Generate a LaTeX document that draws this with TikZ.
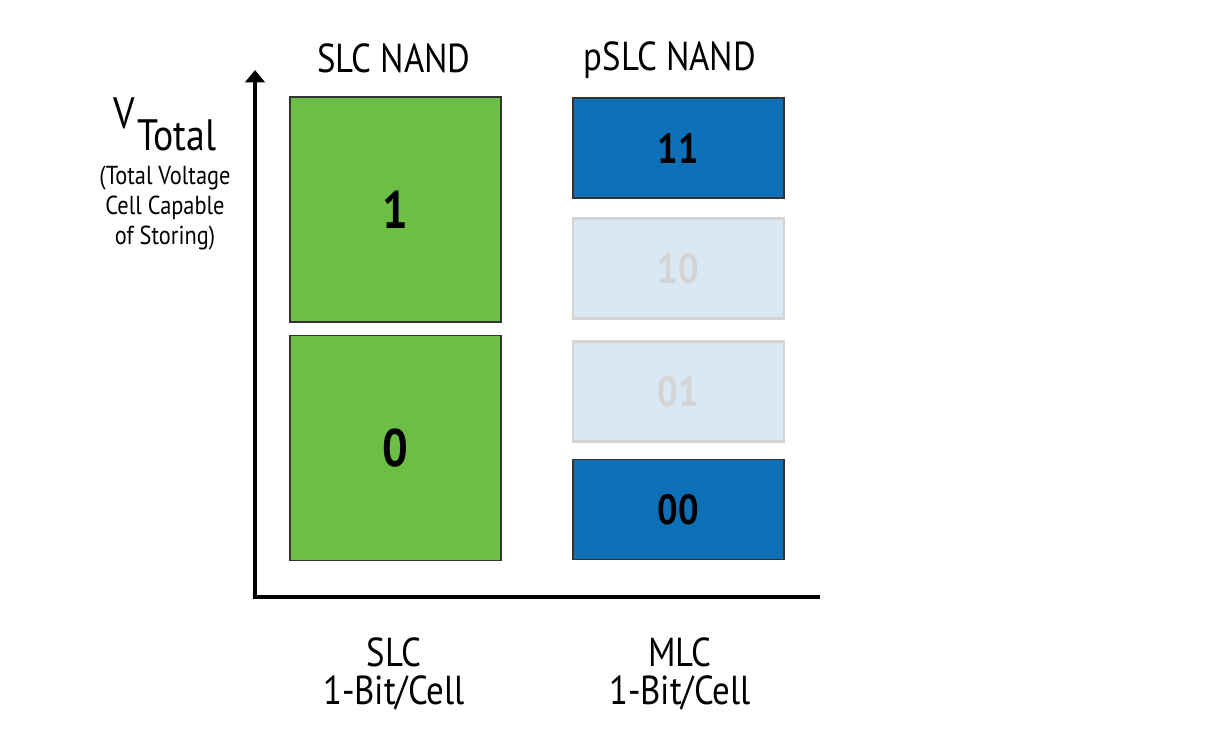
\documentclass[tikz,border=0pt]{standalone}
\usepackage{fontspec}
\setmainfont{PT Sans}[FakeStretch=0.86]
\usetikzlibrary{arrows.meta}
\definecolor{slcgreen}{HTML}{6DBE45}
\definecolor{mlcblue}{HTML}{0E71B8}
\definecolor{paleblue}{HTML}{DAE8F3}
\definecolor{palegrey}{HTML}{D4D4D4}
\tikzset{
  bigcell/.style={draw=black!80, line width=0.45pt, fill=slcgreen, minimum width=2.11cm, minimum height=2.25cm, font=\fontsize{15}{15}\selectfont\bfseries},
  levelcell/.style={draw=black!80, line width=0.45pt, fill=mlcblue, minimum width=2.11cm, minimum height=1.0cm, font=\fontsize{12}{12}\selectfont\bfseries},
  offcell/.style={draw=palegrey, line width=0.6pt, fill=paleblue, text=palegrey, minimum width=2.11cm, minimum height=1.0cm, font=\fontsize{12}{12}\selectfont\bfseries},
  coltitle/.style={font=\fontsize{11.5}{11}\selectfont},
  axis/.style={line width=1.4pt}
}
\begin{document}
\begin{tikzpicture}[x=0.01cm, y=-0.01cm]
      \path[use as bounding box] (0,0) rectangle (1206,735);
      % axes
      \coordinate (o) at (255,597);
      \coordinate (top) at (255,70);
      \coordinate (right) at (820,597);
      \path[draw,axis,-{Triangle[width=5.5pt,length=3.5pt]}] ([yshift=-0.7pt]o) -- (top);
      \path[draw,axis] ([xshift=-0.7pt]o) -- (right);
      % axis label
      \node[anchor=base] at (124,128) (v) {\fontsize{12.5}{13}\selectfont V};
      \node[anchor=base] at (177,150) (vtot) {\fontsize{12.5}{13}\selectfont Total};
      \node[align=center, font=\fontsize{7.4}{8.6}\selectfont] at (165,208) (vnote) {(Total Voltage\\Cell Capable\\of Storing)};
      % SLC column
      \node[coltitle] at (394,58) (slct) {SLC NAND};
      \node[bigcell] at (395.5,209.5) (one) {1};
      \node[bigcell] at (395.5,448) (zero) {0};
      \node[coltitle, align=center] at (394,674) (slcb) {SLC\\1-Bit/Cell};
      % pSLC column
      \node[coltitle] at (670,60) (pslct) {pSLC NAND};
      \node[levelcell] at (678.5,148) (l11) {11};
      \node[offcell] at (678.5,268.5) (l10) {10};
      \node[offcell] at (678.5,391.5) (l01) {01};
      \node[levelcell] at (678.5,509.5) (l00) {00};
      \node[coltitle, align=center] at (680,674) (mlcb) {MLC\\1-Bit/Cell};
\end{tikzpicture}
\end{document}
